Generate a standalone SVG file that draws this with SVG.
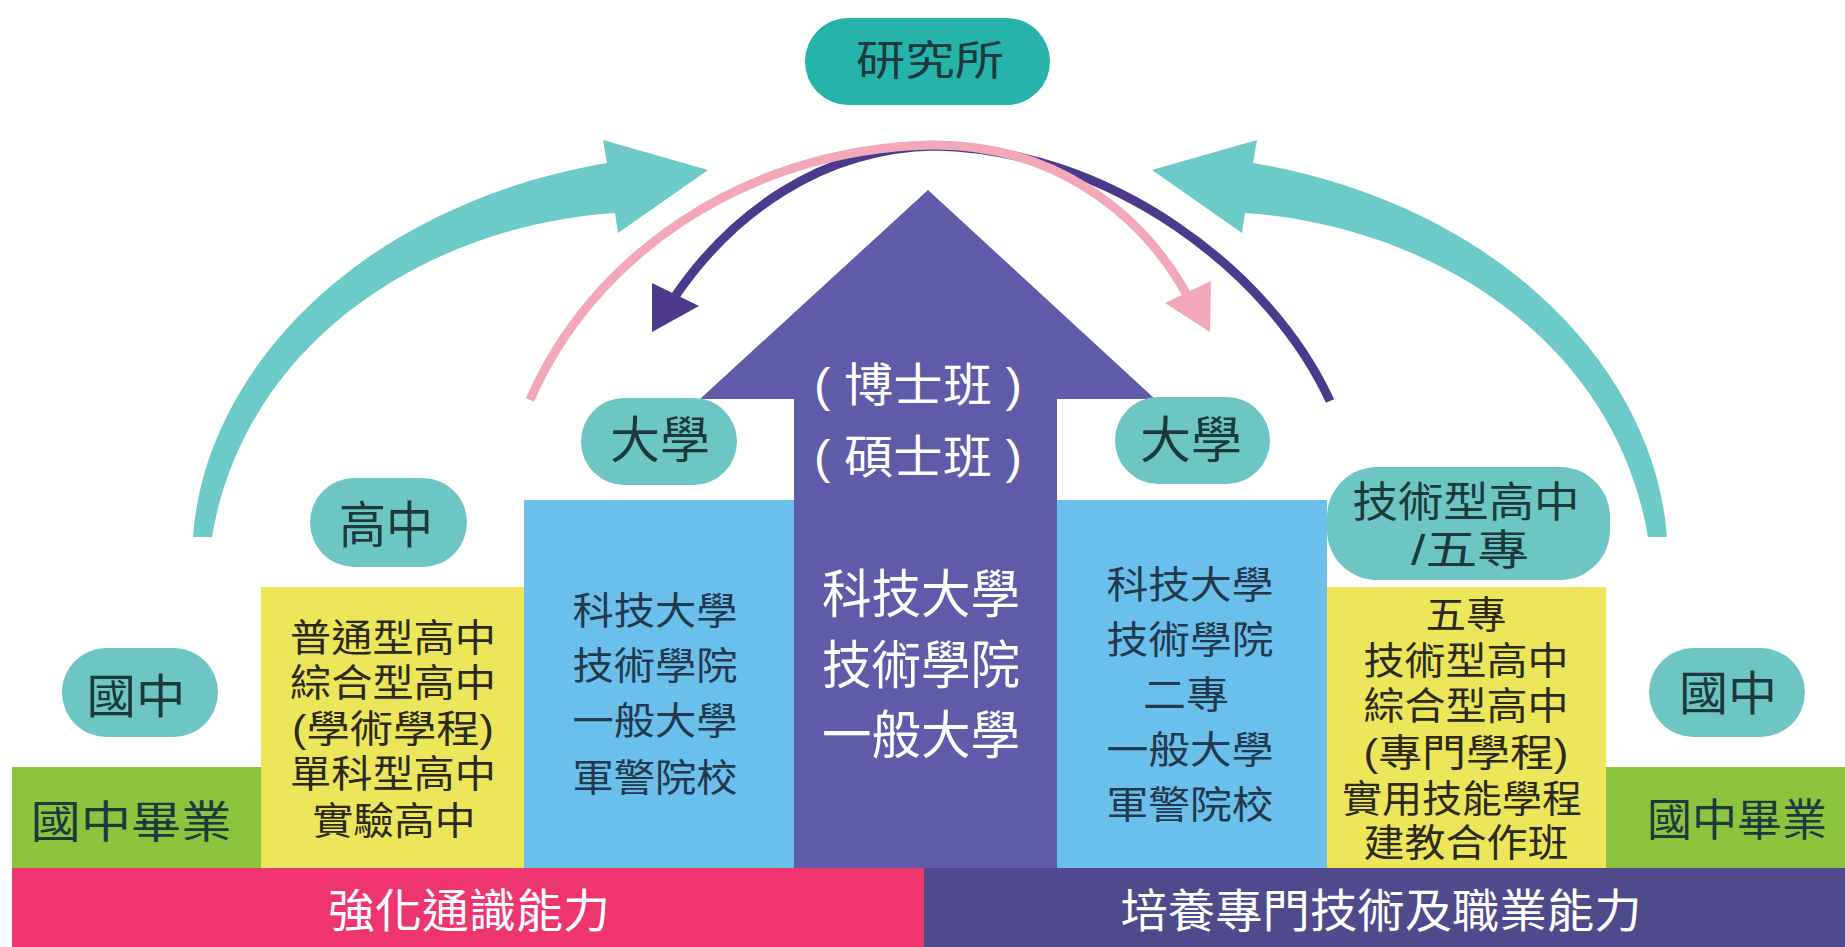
<svg xmlns="http://www.w3.org/2000/svg" width="1845" height="947" viewBox="0 0 1845 947">
<style>
text{font-family:"Liberation Sans","Noto Sans CJK TC","Noto Sans CJK SC",sans-serif;text-anchor:middle}
.pill{fill:#6dc6c4}
.pt{fill:#1c3a3c}
.yt{fill:#2b2a1c;font-size:38px}
.bt{fill:#22384c;font-size:38px}
.wt{fill:#ffffff}
.teal{fill:#6ccac8}
</style>
<rect width="1845" height="947" fill="#ffffff"/>
<g id="bars">
<g id="bar-left"><rect x="12" y="868" width="912" height="79" fill="#ee356f"/>
<text class="wt" x="469" y="927" font-size="46" textLength="282" lengthAdjust="spacingAndGlyphs">強化通識能力</text></g>
<g id="bar-right"><rect x="924" y="868" width="921" height="79" fill="#4f4a8c"/>
<text class="wt" x="1381" y="927" font-size="46" textLength="521" lengthAdjust="spacingAndGlyphs">培養專門技術及職業能力</text></g>
</g>
<g id="box-green-left"><rect x="12" y="767" width="249" height="101" fill="#8cc43e"/>
<text class="pt" x="131" y="838" font-size="44" textLength="201" lengthAdjust="spacingAndGlyphs">國中畢業</text></g>
<g id="box-yellow-left"><rect x="261" y="587" width="263" height="281" fill="#eee65a"/>
<text class="yt" x="393" y="651" textLength="206" lengthAdjust="spacingAndGlyphs">普通型高中</text>
<text class="yt" x="393" y="696" textLength="206" lengthAdjust="spacingAndGlyphs">綜合型高中</text>
<text class="yt" x="393" y="742" textLength="202" lengthAdjust="spacingAndGlyphs">(學術學程)</text>
<text class="yt" x="393" y="787" textLength="206" lengthAdjust="spacingAndGlyphs">單科型高中</text>
<text class="yt" x="394" y="834" textLength="163" lengthAdjust="spacingAndGlyphs">實驗高中</text></g>
<g id="box-blue-left"><rect x="524" y="500" width="270" height="368" fill="#6bbfeb"/>
<text class="bt" x="655" y="624" textLength="165" lengthAdjust="spacingAndGlyphs">科技大學</text>
<text class="bt" x="655" y="679" textLength="165" lengthAdjust="spacingAndGlyphs">技術學院</text>
<text class="bt" x="655" y="734" textLength="165" lengthAdjust="spacingAndGlyphs">一般大學</text>
<text class="bt" x="655" y="791" textLength="165" lengthAdjust="spacingAndGlyphs">軍警院校</text></g>
<g id="center-arrow"><polygon points="794,868 794,399 700,399 928,190 1155,399 1057,399 1057,868" fill="#5f5ba9"/>
<text class="wt" x="918" y="401" font-size="46" textLength="208" lengthAdjust="spacingAndGlyphs">( 博士班 )</text>
<text class="wt" x="918" y="473" font-size="46" textLength="208" lengthAdjust="spacingAndGlyphs">( 碩士班 )</text>
<text class="wt" x="921" y="613" font-size="52" textLength="198" lengthAdjust="spacingAndGlyphs">科技大學</text>
<text class="wt" x="921" y="684" font-size="52" textLength="198" lengthAdjust="spacingAndGlyphs">技術學院</text>
<text class="wt" x="921" y="754" font-size="52" textLength="198" lengthAdjust="spacingAndGlyphs">一般大學</text></g>
<g id="box-blue-right"><rect x="1057" y="500" width="270" height="368" fill="#6bbfeb"/>
<text class="bt" x="1190" y="598" textLength="167" lengthAdjust="spacingAndGlyphs">科技大學</text>
<text class="bt" x="1190" y="653" textLength="167" lengthAdjust="spacingAndGlyphs">技術學院</text>
<text class="bt" x="1186" y="708" textLength="86" lengthAdjust="spacingAndGlyphs">二專</text>
<text class="bt" x="1190" y="763" textLength="167" lengthAdjust="spacingAndGlyphs">一般大學</text>
<text class="bt" x="1190" y="818" textLength="167" lengthAdjust="spacingAndGlyphs">軍警院校</text></g>
<g id="box-yellow-right"><rect x="1327" y="587" width="279" height="281" fill="#eee65a"/>
<text class="yt" x="1466" y="628" textLength="81" lengthAdjust="spacingAndGlyphs">五專</text>
<text class="yt" x="1466" y="674" textLength="205" lengthAdjust="spacingAndGlyphs">技術型高中</text>
<text class="yt" x="1466" y="719" textLength="205" lengthAdjust="spacingAndGlyphs">綜合型高中</text>
<text class="yt" x="1466" y="766" textLength="205" lengthAdjust="spacingAndGlyphs">(專門學程)</text>
<text class="yt" x="1462" y="812" textLength="240" lengthAdjust="spacingAndGlyphs">實用技能學程</text>
<text class="yt" x="1466" y="856" textLength="205" lengthAdjust="spacingAndGlyphs">建教合作班</text></g>
<g id="box-green-right"><rect x="1606" y="767" width="239" height="101" fill="#8cc43e"/>
<text class="pt" x="1737" y="836" font-size="44" textLength="180" lengthAdjust="spacingAndGlyphs">國中畢業</text></g>
<g id="pill-grad"><rect x="805" y="18" width="245" height="87" rx="43.5" fill="#25b3ab"/>
<text class="pt" x="930" y="75" font-size="41" textLength="148" lengthAdjust="spacingAndGlyphs">研究所</text></g>
<g id="pill-uni-left"><rect x="581" y="398" width="156" height="87" rx="43.5" class="pill"/>
<text class="pt" x="660" y="458" font-size="50" textLength="100" lengthAdjust="spacingAndGlyphs">大學</text></g>
<g id="pill-uni-right"><rect x="1115" y="397" width="155" height="87" rx="43.5" class="pill"/>
<text class="pt" x="1191" y="458" font-size="50" textLength="102" lengthAdjust="spacingAndGlyphs">大學</text></g>
<g id="pill-senior"><rect x="310" y="478" width="157" height="89" rx="44.5" class="pill"/>
<text class="pt" x="386" y="543" font-size="50" textLength="94" lengthAdjust="spacingAndGlyphs">高中</text></g>
<g id="pill-junior-left"><rect x="62" y="648" width="156" height="89" rx="44.5" class="pill"/>
<text class="pt" x="136" y="713" font-size="47" textLength="99" lengthAdjust="spacingAndGlyphs">國中</text></g>
<g id="pill-junior-right"><rect x="1649" y="648" width="156" height="89" rx="44.5" class="pill"/>
<text class="pt" x="1728" y="710" font-size="47" textLength="98" lengthAdjust="spacingAndGlyphs">國中</text></g>
<g id="pill-vocational"><rect x="1327" y="467" width="283" height="113" rx="50" class="pill"/>
<text class="pt" x="1466" y="517" font-size="42" textLength="227" lengthAdjust="spacingAndGlyphs">技術型高中</text>
<text class="pt" x="1470" y="565" font-size="42" textLength="118" lengthAdjust="spacingAndGlyphs">/五專</text></g>
<g id="connectors">
<path id="teal-left" class="teal" d="M193,537 C205,370 360,205 607,163 L603,140 L708,170 L618,233 L615,213 C430,225 245,340 212,537 Z"/>
<path id="teal-right" class="teal" transform="matrix(-1 0 0 1 1860 0)" d="M193,537 C205,370 360,205 607,163 L603,140 L708,170 L618,233 L615,213 C430,225 245,340 212,537 Z"/>
<path id="arc-purple" d="M1330,401 C1270,270 1110,150 935,146 C820,148 730,215 674,298" fill="none" stroke="#4b3a8c" stroke-width="9"/>
<polygon points="652,332 652,283 699,306" fill="#4b3a8c"/>
<path id="arc-pink" d="M530,400 C590,260 740,150 930,145 C1050,143 1140,210 1187,295" fill="none" stroke="#f3a8ba" stroke-width="9"/>
<polygon points="1210,332 1165,303 1211,281" fill="#f3a8ba"/>
</g>
</svg>
